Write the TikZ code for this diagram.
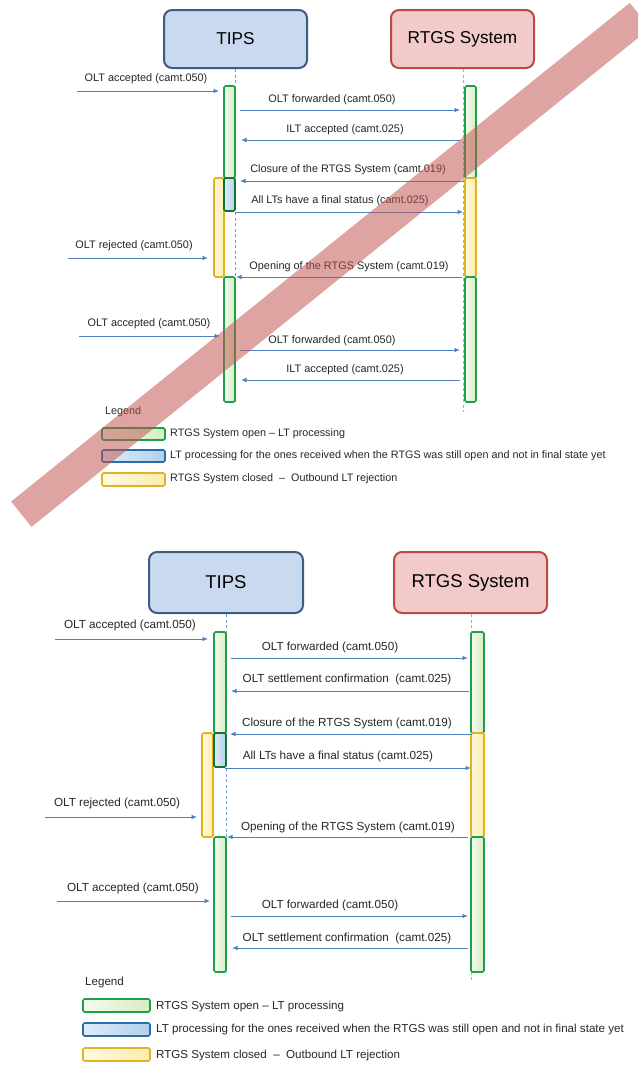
\documentclass[tikz,border=0pt]{standalone}
\usepackage{fontspec}
\setmainfont{Liberation Sans}
\usetikzlibrary{arrows.meta}
\definecolor{tipsfill}{RGB}{201,218,240}
\definecolor{tipsdraw}{RGB}{62,92,130}
\definecolor{rtgsfill}{RGB}{242,202,202}
\definecolor{rtgsdraw}{RGB}{185,74,72}
\definecolor{msgblue}{RGB}{79,129,189}
\definecolor{gdraw}{RGB}{30,160,75}
\definecolor{gfillL}{RGB}{244,251,238}
\definecolor{gfillR}{RGB}{214,237,194}
\definecolor{ydraw}{RGB}{228,178,30}
\definecolor{yfillL}{RGB}{255,250,225}
\definecolor{yfillR}{RGB}{253,236,170}
\definecolor{bdraw}{RGB}{40,110,170}
\definecolor{bfillL}{RGB}{222,236,248}
\definecolor{bfillR}{RGB}{178,208,235}
\definecolor{stripecol}{RGB}{192,80,77}
\definecolor{lifeTcol}{RGB}{120,155,205}
\definecolor{lifeRcol}{RGB}{232,150,150}
\newcommand\actbar[6]{%
  \pgfmathsetmacro\abw{#5-#3}\pgfmathsetmacro\abh{#6-#4}%
  \node[#2, minimum width=\abw pt, minimum height=\abh pt] (#1) at ({(#3+#5)/2},{(#4+#6)/2}) {};}
\newcommand\seqmsg[7]{%
  \coordinate (#1s) at (#2,#3); \coordinate (#1e) at (#4,#3);
  \draw[msgline] (#1s) -- (#1e);
  \node[lbl] (#1l) at (#5,#6) {#7};}
\begin{document}
\begin{tikzpicture}[x=1pt,y=-1pt,
  partT/.style={draw=tipsdraw, fill=tipsfill, line width=2pt, rounded corners=8pt, inner sep=0pt},
  partR/.style={draw=rtgsdraw, fill=rtgsfill, line width=2pt, rounded corners=8pt, inner sep=0pt},
  gbar/.style={draw=gdraw, left color=gfillL, right color=gfillR, line width=1.6pt, rounded corners=1.5pt, inner sep=0pt},
  ybar/.style={draw=ydraw, left color=yfillL, right color=yfillR, line width=1.6pt, rounded corners=1.5pt, inner sep=0pt},
  bbar/.style={draw=gdraw!70!black, left color=bfillL, right color=bfillR, line width=1.6pt, rounded corners=1.5pt, inner sep=0pt},
  bswatch/.style={draw=bdraw, left color=bfillL, right color=bfillR, line width=1.6pt, rounded corners=1.5pt, inner sep=0pt},
  msgline/.style={draw=msgblue, line width=0.8pt, -{Latex[length=5.5pt,width=4.5pt]}},
  lifeT/.style={draw=lifeTcol, line width=0.6pt, dash pattern=on 3pt off 2.5pt},
  lifeR/.style={draw=lifeRcol, line width=0.6pt, dash pattern=on 3pt off 2.5pt},
  lbl/.style={inner sep=0pt, text=black!85},
  leg/.style={inner sep=0pt, anchor=west, text=black!85}
]
\useasboundingbox (0,0) rectangle (638,1066);
\clip (0,0) rectangle (638,1066);

% ================= TOP DIAGRAM =================
\begin{scope}[lbl/.append style={font=\fontsize{10.9}{13}\selectfont},
              leg/.append style={font=\fontsize{10.8}{13}\selectfont}]
\node[partT, minimum width=143pt, minimum height=58pt, font=\fontsize{17.2}{20}\selectfont] (tipsA) at (235.5,39) {TIPS};
\node[partR, minimum width=143pt, minimum height=58pt, font=\fontsize{17.2}{20}\selectfont] (rtgsA) at (462.5,39) {RTGS System};
\coordinate (tipsAend) at (235,402);
\coordinate (rtgsAend) at (463,412);
\draw[lifeT] (tipsA.south -| tipsAend) -- (tipsAend);
\draw[lifeR] (rtgsA.south -| rtgsAend) -- (rtgsAend);

\actbar{tgA1}{gbar}{224}{86}{235}{178}
\actbar{tyA}{ybar}{214}{178}{224}{277}
\actbar{tbA}{bbar}{224}{178}{235}{211}
\actbar{tgA2}{gbar}{224}{277}{235}{402}
\actbar{rgA1}{gbar}{465}{86}{476}{178}
\actbar{ryA}{ybar}{465}{178}{476}{277}
\actbar{rgA2}{gbar}{465}{277}{476}{402}

\seqmsg{mA1}{77}{91}{219}{146}{79}{OLT accepted (camt.050)}
\seqmsg{mA2}{240}{110}{460}{332}{100}{OLT forwarded (camt.050)}
\seqmsg{mA3}{460}{140}{241}{345}{130}{ILT accepted (camt.025)}
\seqmsg{mA4}{464}{181}{240}{348}{170}{Closure of the RTGS System (camt.019)}
\seqmsg{mA5}{235}{212}{463}{340}{201}{All LTs have a final status (camt.025)}
\seqmsg{mA6}{68}{258}{208}{134}{246}{OLT rejected (camt.050)}
\seqmsg{mA7}{462}{277}{236}{349}{267}{Opening of the RTGS System (camt.019)}
\seqmsg{mA8}{79}{336}{220}{149}{324}{OLT accepted (camt.050)}
\seqmsg{mA9}{240}{350}{460}{332}{341}{OLT forwarded (camt.050)}
\seqmsg{mA10}{460}{380}{241}{345}{370}{ILT accepted (camt.025)}

\node[leg] (legA) at (105,412) {Legend};
\actbar{lgA1}{gbar}{102}{428}{165}{440}
\actbar{lgA2}{bswatch}{102}{450}{165}{462}
\actbar{lgA3}{ybar}{102}{473}{165}{486}
\node[leg] (legA1) at (170,434) {RTGS System open – LT processing};
\node[leg] (legA2) at (170,456) {LT processing for the ones received when the RTGS was still open and not in final state yet};
\node[leg] (legA3) at (170,479) {RTGS System closed\ \ –\ \ Outbound LT rejection};
\end{scope}

% red cross-out stripe
\coordinate (stripeS) at (21.3,514.2);
\coordinate (stripeE) at (640,15.5);
\draw[stripecol, opacity=0.52, line width=32.5pt, line cap=butt] (stripeS) -- (stripeE);

% ================= BOTTOM DIAGRAM =================
\begin{scope}[lbl/.append style={font=\fontsize{11.7}{14}\selectfont},
              leg/.append style={font=\fontsize{11.6}{14}\selectfont}]
\node[partT, minimum width=154pt, minimum height=61pt, font=\fontsize{18.5}{22}\selectfont] (tipsB) at (226,582.5) {TIPS};
\node[partR, minimum width=153pt, minimum height=61pt, font=\fontsize{18.5}{22}\selectfont] (rtgsB) at (470.5,582.5) {RTGS System};
\coordinate (tipsBend) at (226,972);
\coordinate (rtgsBend) at (471,982);
\draw[lifeT] (tipsB.south -| tipsBend) -- (tipsBend);
\draw[lifeR] (rtgsB.south -| rtgsBend) -- (rtgsBend);

\actbar{tgB1}{gbar}{214}{632}{226}{733}
\actbar{tyB}{ybar}{202}{733}{213}{837}
\actbar{tbB}{bbar}{214}{733}{226}{767}
\actbar{tgB2}{gbar}{214}{837}{226}{972}
\actbar{rgB1}{gbar}{471}{632}{484}{733}
\actbar{ryB}{ybar}{471}{733}{484}{837}
\actbar{rgB2}{gbar}{471}{837}{484}{972}

\seqmsg{mB1}{55}{639}{208}{130}{625}{OLT accepted (camt.050)}
\seqmsg{mB2}{231}{658}{468}{330}{647}{OLT forwarded (camt.050)}
\seqmsg{mB3}{469}{691}{231}{347}{679}{OLT settlement confirmation\ \ (camt.025)}
\seqmsg{mB4}{472}{734}{230}{347}{723}{Closure of the RTGS System (camt.019)}
\seqmsg{mB5}{225}{768}{471}{338}{756}{All LTs have a final status (camt.025)}
\seqmsg{mB6}{45}{817}{197}{117}{803}{OLT rejected (camt.050)}
\seqmsg{mB7}{468}{837}{227}{348}{827}{Opening of the RTGS System (camt.019)}
\seqmsg{mB8}{57}{901}{210}{133}{888}{OLT accepted (camt.050)}
\seqmsg{mB9}{231}{916}{468}{330}{905}{OLT forwarded (camt.050)}
\seqmsg{mB10}{468}{948}{232}{347}{938}{OLT settlement confirmation\ \ (camt.025)}

\node[leg] (legB) at (85,982) {Legend};
\actbar{lgB1}{gbar}{83}{999}{150}{1012}
\actbar{lgB2}{bswatch}{83}{1023}{150}{1036}
\actbar{lgB3}{ybar}{83}{1048}{150}{1061}
\node[leg] (legB1) at (156,1006) {RTGS System open – LT processing};
\node[leg] (legB2) at (156,1029) {LT processing for the ones received when the RTGS was still open and not in final state yet};
\node[leg] (legB3) at (156,1055) {RTGS System closed\ \ –\ \ Outbound LT rejection};
\end{scope}
\end{tikzpicture}
\end{document}
